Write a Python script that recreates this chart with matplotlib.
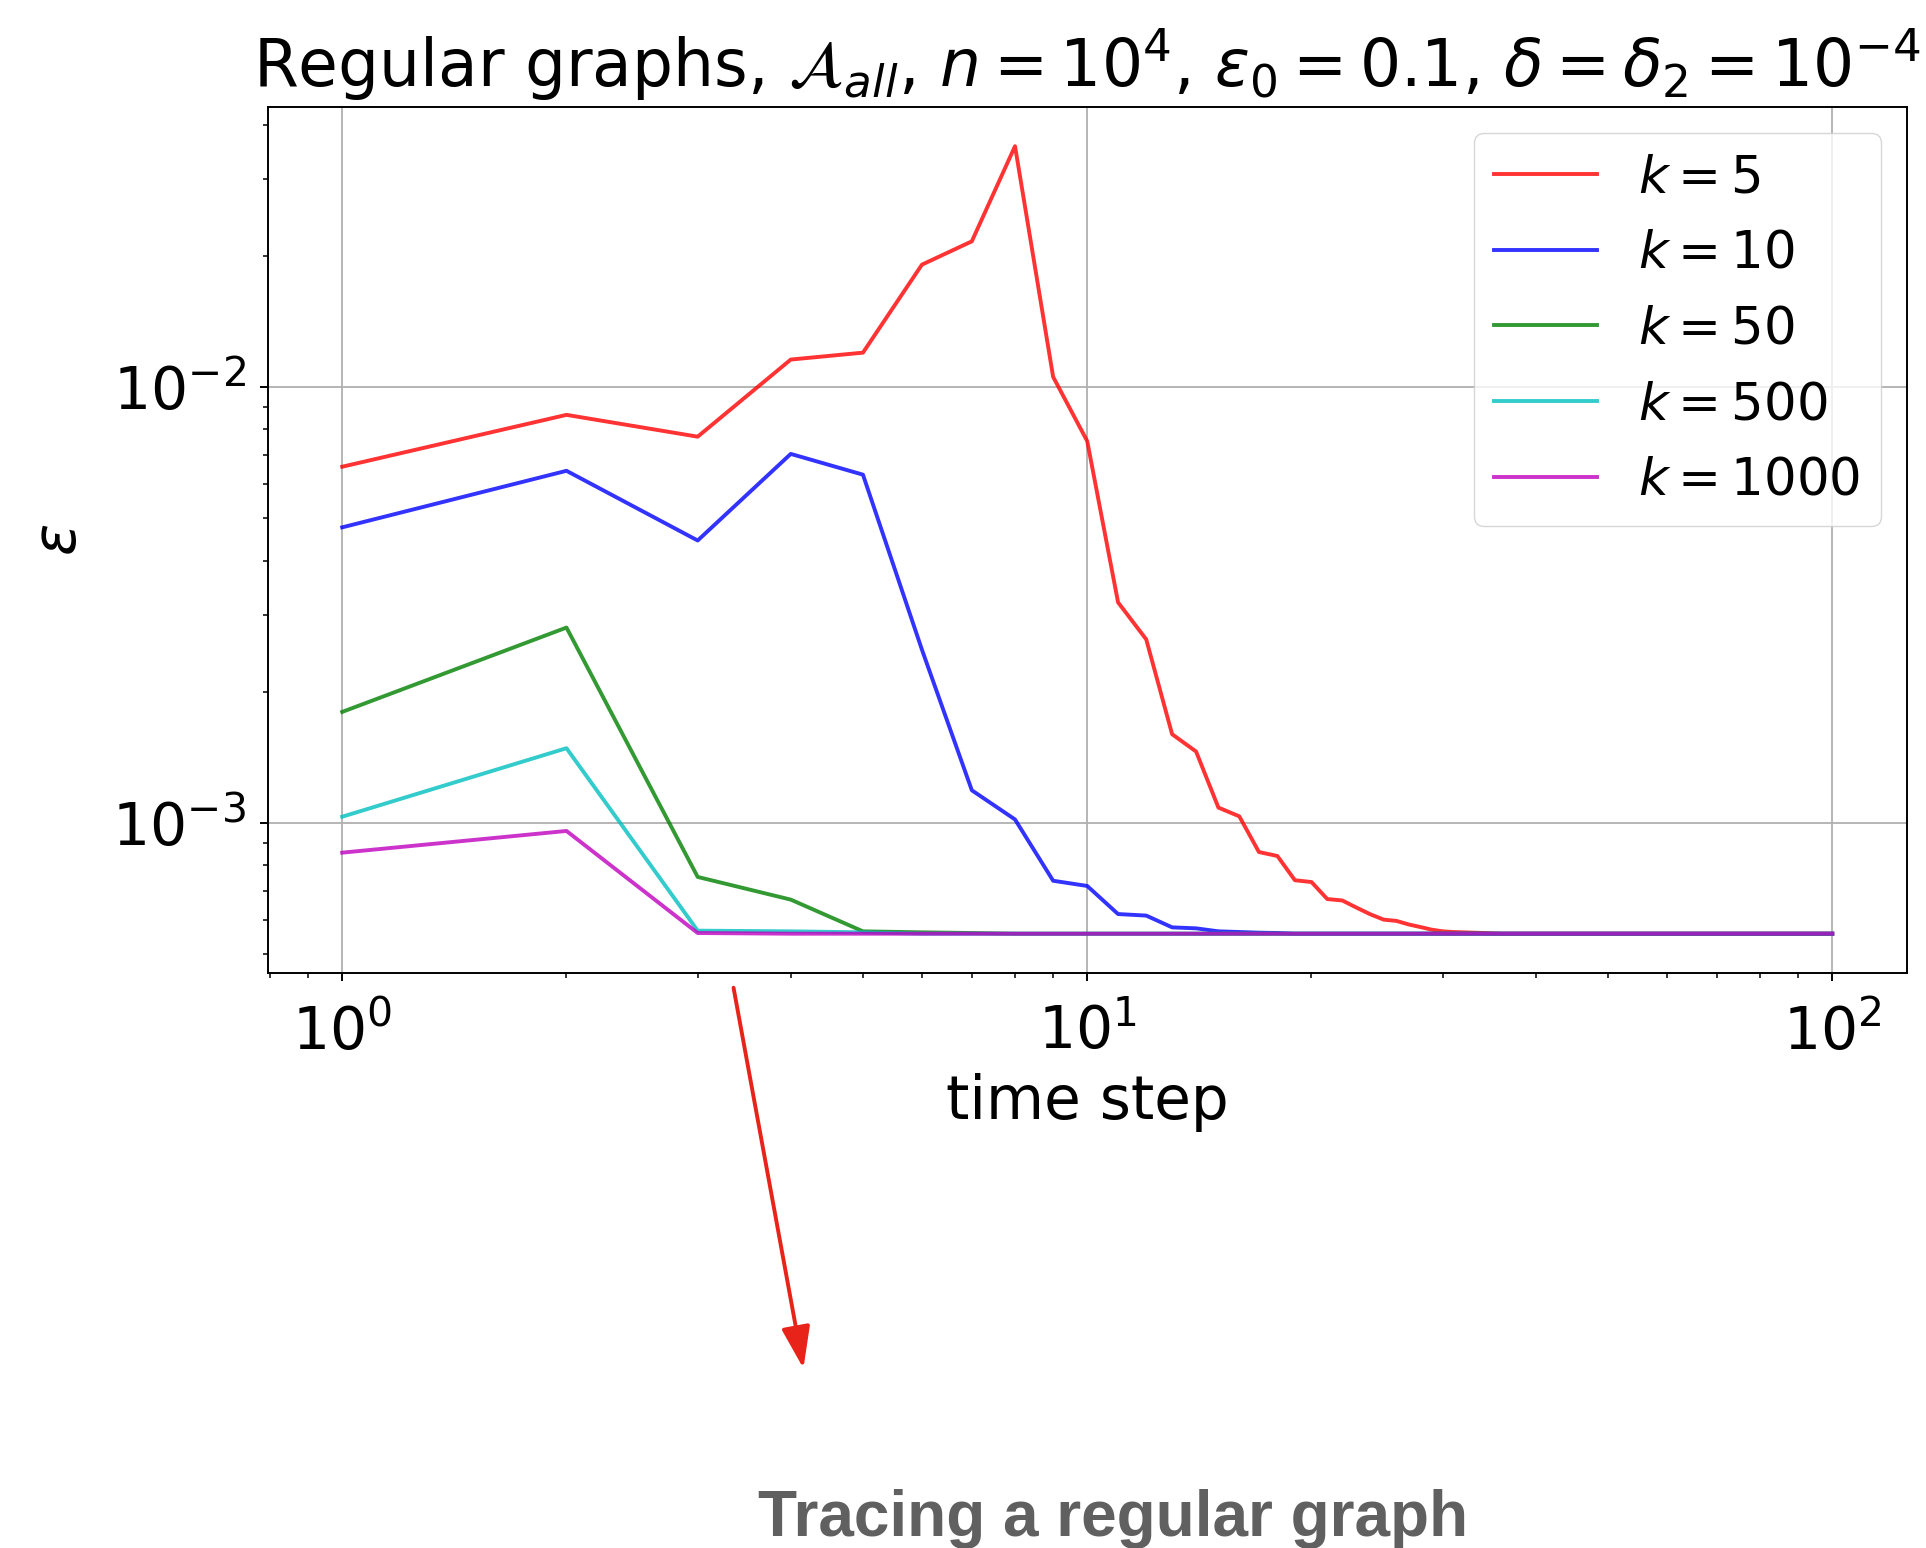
import numpy as np
import matplotlib
matplotlib.use("Agg")
import matplotlib.pyplot as plt
from matplotlib.patches import FancyArrowPatch
from matplotlib.ticker import NullFormatter

# time steps 1..100, epsilon (tail settles on a flat floor)
steps = list(range(1, 101))
eps_floor = 5.58e-4

eps_k5 = [6.57e-3, 8.64e-3, 7.70e-3, 1.157e-2, 1.20e-2, 1.91e-2, 2.16e-2, 3.57e-2,
          1.056e-2, 7.52e-3, 3.21e-3, 2.64e-3, 1.60e-3, 1.46e-3, 1.086e-3, 1.037e-3,
          8.59e-4, 8.41e-4, 7.40e-4, 7.33e-4, 6.70e-4, 6.65e-4, 6.40e-4, 6.18e-4,
          6.01e-4, 5.97e-4, 5.86e-4, 5.78e-4, 5.70e-4, 5.65e-4, 5.63e-4, 5.62e-4,
          5.61e-4, 5.60e-4, 5.59e-4]
eps_k10 = [4.77e-3, 6.43e-3, 4.45e-3, 7.03e-3, 6.30e-3, 2.50e-3, 1.19e-3, 1.02e-3,
           7.38e-4, 7.18e-4, 6.19e-4, 6.14e-4, 5.77e-4, 5.74e-4, 5.65e-4, 5.63e-4,
           5.61e-4, 5.60e-4]
eps_k50 = [1.80e-3, 2.81e-3, 7.53e-4, 6.68e-4, 5.65e-4, 5.62e-4, 5.60e-4]
eps_k500 = [1.035e-3, 1.486e-3, 5.67e-4, 5.65e-4, 5.62e-4]
eps_k1000 = [8.56e-4, 9.60e-4, 5.60e-4]

labels = [r"$k = 5$", r"$k = 10$", r"$k = 50$", r"$k = 500$", r"$k = 1000$"]
colors = ["r", "b", "g", "c", "m"]


def pad(head):
    return head + [eps_floor] * (len(steps) - len(head))


series = [pad(s) for s in [eps_k5, eps_k10, eps_k50, eps_k500, eps_k1000]]

fig = plt.figure(figsize=(19.26, 15.48), dpi=100)
ax = fig.add_axes([0.139, 0.3714, 0.851, 0.5596])

for y, lab, c in zip(series, labels, colors):
    ax.plot(steps, y, color=c, alpha=0.8, lw=2.8, label=lab)

ax.set_xscale("log")
ax.set_yscale("log")
ax.yaxis.set_minor_formatter(NullFormatter())
ax.grid(True, which="major", color="#b0b0b0", lw=1.3)
ax.tick_params(which="major", labelsize=42, length=6, width=1.4)
ax.tick_params(which="minor", length=3.6, width=1.1)
ax.tick_params(axis="x", which="major", pad=16)
ax.tick_params(axis="y", which="major", pad=10)
for sp in ax.spines.values():
    sp.set_linewidth(1.4)

ax.set_xlabel("time step", fontsize=43, labelpad=8)
ax.set_ylabel(r"$\varepsilon$", fontsize=43, labelpad=16)
ax.set_title(r"Regular graphs, $\mathcal{A}_{all}$, $n = 10^4$, "
             r"$\varepsilon_0 = 0.1$, $\delta = \delta_2 = 10^{-4}$",
             fontsize=46.5, pad=14)
ax.legend(fontsize=37, loc="upper right")

arrow = FancyArrowPatch((0.3806, 0.3637), (0.4174, 0.1143),
                        transform=fig.transFigure, color="#e8231a", lw=2.8,
                        arrowstyle="-|>,head_length=1.6,head_width=0.55",
                        mutation_scale=16)
fig.add_artist(arrow)

fig.text(0.578, 0.0078, "Tracing a regular graph", ha="center", va="baseline",
         fontsize=46, fontweight="bold", family="Liberation Sans", color="#606060")

fig.savefig("out.png", dpi=100)
